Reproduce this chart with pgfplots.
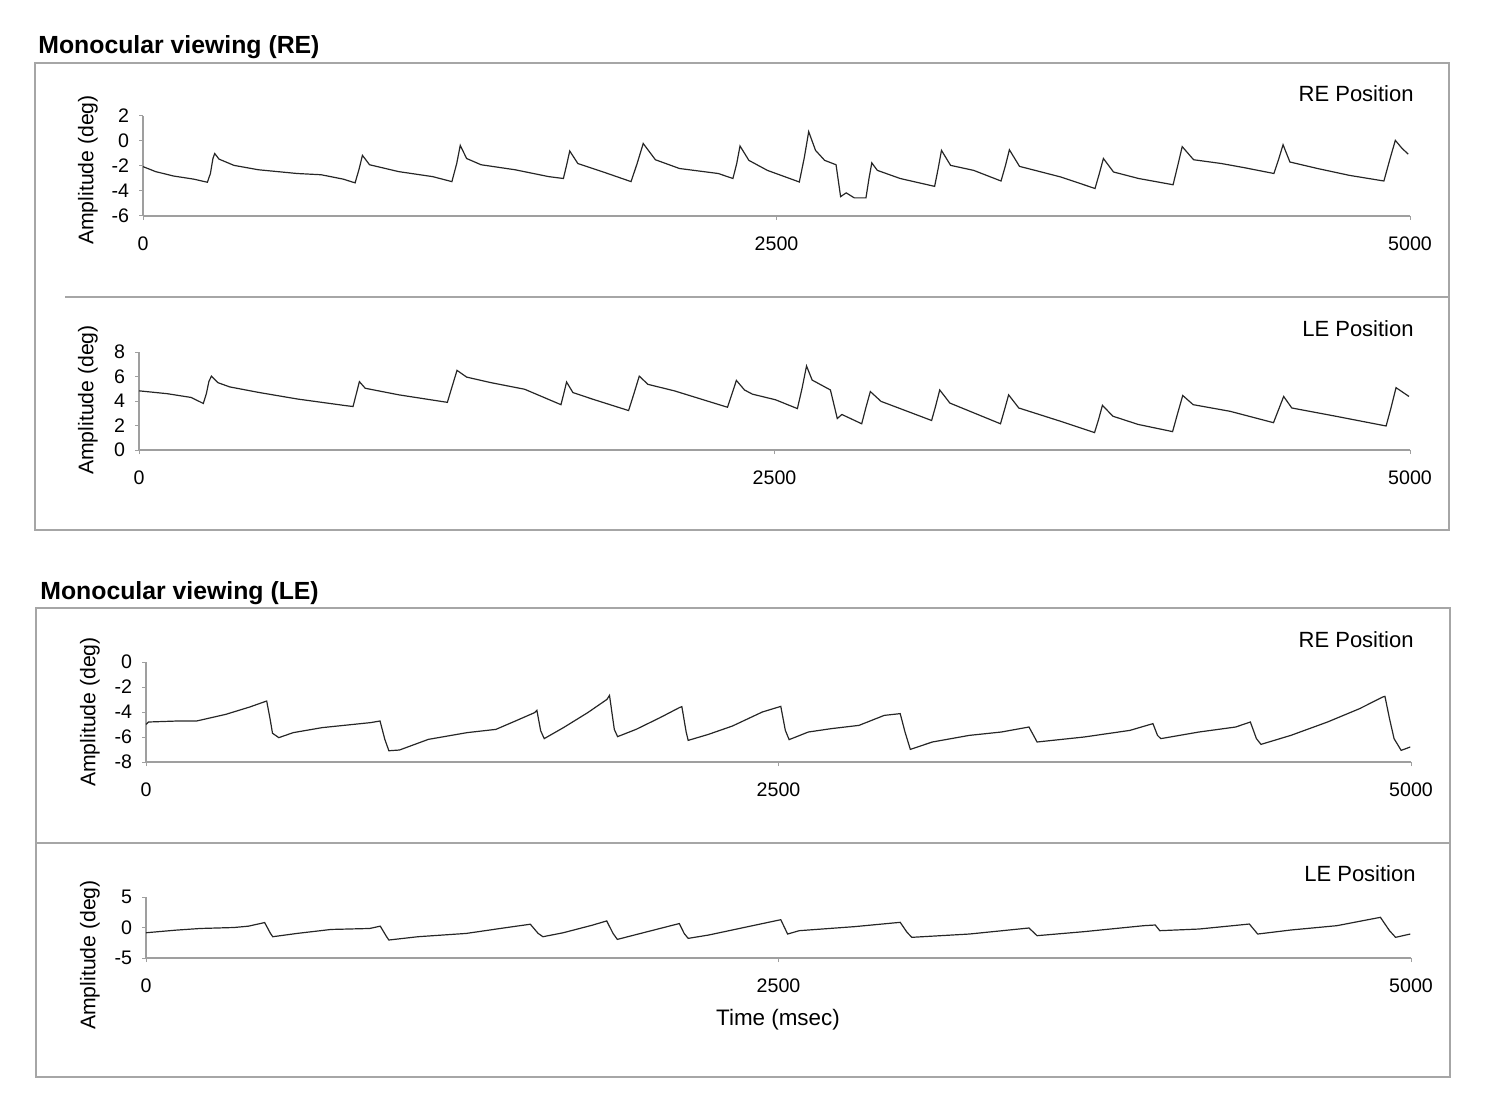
\documentclass[border=0pt]{standalone}
\usepackage{pgfplots}
\pgfplotsset{compat=1.18}
\usepackage{fontspec}
\setmainfont{Liberation Sans}

\pgfplotsset{
    panel/.style={
        scale only axis,
        anchor=south west,
        axis x line*=bottom,
        axis y line*=left,
        xmin=0, xmax=5000,
        xtick={0,2500,5000},
        xticklabels={0,2500,5000},
        tick align=outside,
        major tick length=2pt,
        axis line style={gray!75, line width=0.6pt},
        tick style={gray!75, line width=0.5pt},
        tick label style={font=\fontsize{9.8}{11}\selectfont},
        xticklabel style={yshift=-5pt},
        yticklabel style={xshift=-1.5pt},
        clip=false
    },
    trace/.style={black!85, line width=0.6pt, no markers}
}

\begin{document}
\begin{tikzpicture}[x=0.5pt,y=0.5pt]
\path (0,0) rectangle (1488,1116);

% frames
\draw[gray!70, line width=0.6pt] (35,1053) rectangle (1449,586);
\draw[gray!70, line width=0.6pt] (65,819) -- (1449,819);
\draw[gray!70, line width=0.6pt] (36,508) rectangle (1450,39);
\draw[gray!70, line width=0.6pt] (36,273) -- (1450,273);

\node[anchor=west, inner sep=0pt, font=\fontsize{12.4}{14}\selectfont\bfseries] at (38,1069) {Monocular viewing (RE)};
\node[anchor=west, inner sep=0pt, font=\fontsize{12.4}{14}\selectfont\bfseries] at (40,523) {Monocular viewing (LE)};

\node[anchor=east, inner sep=0pt, font=\fontsize{11}{13}\selectfont] at (1414,1022) {RE Position};
\node[anchor=east, inner sep=0pt, font=\fontsize{11}{13}\selectfont] at (1414,787) {LE Position};
\node[anchor=east, inner sep=0pt, font=\fontsize{11}{13}\selectfont] at (1414,476) {RE Position};
\node[anchor=east, inner sep=0pt, font=\fontsize{11}{13}\selectfont] at (1416,242) {LE Position};

\node[rotate=90, font=\fontsize{10.6}{13}\selectfont] at (88,946) {Amplitude (deg)};
\node[rotate=90, font=\fontsize{10.6}{13}\selectfont] at (88,716) {Amplitude (deg)};
\node[rotate=90, font=\fontsize{10.6}{13}\selectfont] at (90,404) {Amplitude (deg)};
\node[rotate=90, font=\fontsize{10.6}{13}\selectfont] at (90,161) {Amplitude (deg)};

\node[font=\fontsize{11.2}{13}\selectfont] at (778,96) {Time (msec)};

% RE viewing, RE position
\begin{axis}[panel, at={(71.5pt,450pt)}, width=633.5pt, height=50pt,
    ymin=-6, ymax=2, ytick={-6,-4,-2,0,2}, yticklabels={-6,-4,-2,0,2}]
\addplot[trace] coordinates {(0,-2.05) (50,-2.45) (120,-2.8) (200,-3.05) (254,-3.3) (266,-2.6) (276,-1.4) (283,-1.0) (300,-1.45) (359,-1.95) (455,-2.3) (608,-2.6) (703,-2.7) (790,-3.05) (837,-3.35) (852,-2.3) (866,-1.15) (894,-1.9) (1009,-2.45) (1143,-2.85) (1219,-3.25) (1238,-1.8) (1252,-0.35) (1277,-1.4) (1334,-1.9) (1468,-2.3) (1601,-2.85) (1659,-3.0) (1672,-1.9) (1684,-0.8) (1716,-1.8) (1812,-2.45) (1926,-3.25) (1950,-1.8) (1974,-0.2) (2022,-1.5) (2117,-2.2) (2270,-2.6) (2328,-3.0) (2343,-1.8) (2356,-0.4) (2391,-1.55) (2464,-2.35) (2590,-3.28) (2610,-1.3) (2627,0.75) (2654,-0.75) (2690,-1.55) (2735,-1.9) (2753,-4.45) (2775,-4.15) (2807,-4.55) (2853,-4.55) (2865,-3.0) (2876,-1.75) (2898,-2.35) (2988,-3.0) (3124,-3.63) (3138,-2.2) (3151,-0.75) (3187,-1.95) (3278,-2.35) (3386,-3.2) (3403,-2.0) (3419,-0.7) (3459,-2.03) (3622,-2.88) (3757,-3.8) (3774,-2.6) (3790,-1.4) (3830,-2.48) (3929,-3.0) (4065,-3.5) (4083,-2.0) (4101,-0.45) (4146,-1.5) (4255,-1.8) (4345,-2.13) (4463,-2.6) (4481,-1.5) (4499,-0.3) (4526,-1.68) (4635,-2.2) (4761,-2.75) (4897,-3.2) (4920,-1.5) (4942,0.05) (4969,-0.6) (4993,-1.05)};
\end{axis}

% RE viewing, LE position
\begin{axis}[panel, at={(69.5pt,333pt)}, width=635.5pt, height=49pt,
    ymin=0, ymax=8, ytick={0,2,4,6,8}, yticklabels={0,2,4,6,8}]
\addplot[trace] coordinates {(0,4.83) (110,4.6) (205,4.29) (253,3.8) (265,4.6) (275,5.6) (285,6.03) (310,5.5) (357,5.15) (471,4.7) (624,4.16) (814,3.62) (842,3.55) (855,4.6) (867,5.58) (890,5.04) (1023,4.5) (1213,3.89) (1232,5.2) (1251,6.5) (1289,5.95) (1384,5.5) (1517,4.96) (1660,3.7) (1671,4.6) (1682,5.55) (1707,4.69) (1783,4.16) (1926,3.22) (1947,4.6) (1968,6.03) (2002,5.36) (2106,4.83) (2315,3.49) (2333,4.6) (2350,5.68) (2382,4.9) (2413,4.56) (2504,4.1) (2590,3.38) (2608,5.0) (2626,6.86) (2648,5.71) (2720,4.9) (2747,2.57) (2765,2.9) (2843,2.14) (2860,3.5) (2877,4.77) (2919,3.97) (3118,2.41) (3134,3.6) (3150,4.9) (3190,3.83) (3389,2.14) (3405,3.3) (3421,4.5) (3461,3.43) (3623,2.36) (3759,1.42) (3775,2.5) (3790,3.65) (3831,2.76) (3930,2.09) (4066,1.5) (4086,3.0) (4106,4.45) (4147,3.7) (4292,3.16) (4463,2.23) (4483,3.3) (4503,4.37) (4535,3.43) (4707,2.76) (4906,1.96) (4926,3.5) (4945,5.09) (4996,4.37)};
\end{axis}

% LE viewing, RE position
\begin{axis}[panel, at={(73pt,177pt)}, width=632.5pt, height=50pt,
    ymin=-8, ymax=0, ytick={-8,-6,-4,-2,0}, yticklabels={-8,-6,-4,-2,0}]
\addplot[trace] coordinates {(0,-4.99) (10,-4.8) (124,-4.72) (200,-4.72) (315,-4.19) (410,-3.6) (477,-3.12) (490,-4.5) (500,-5.7) (525,-6.05) (582,-5.65) (696,-5.25) (887,-4.85) (925,-4.72) (944,-6.19) (960,-7.1) (1002,-7.04) (1116,-6.19) (1269,-5.65) (1383,-5.39) (1460,-4.72) (1536,-4.05) (1545,-3.87) (1560,-5.5) (1574,-6.13) (1650,-5.25) (1746,-4.05) (1822,-2.99) (1832,-2.67) (1851,-5.39) (1864,-5.97) (1937,-5.39) (2032,-4.45) (2108,-3.65) (2118,-3.57) (2135,-5.6) (2143,-6.27) (2223,-5.79) (2318,-5.12) (2436,-4.0) (2509,-3.55) (2527,-5.47) (2542,-6.21) (2618,-5.6) (2709,-5.33) (2818,-5.07) (2918,-4.27) (2981,-4.13) (3000,-5.6) (3021,-6.99) (3108,-6.4) (3254,-5.87) (3381,-5.6) (3490,-5.2) (3508,-5.87) (3522,-6.4) (3708,-6.0) (3889,-5.47) (3980,-4.93) (3998,-5.87) (4011,-6.13) (4162,-5.6) (4307,-5.2) (4365,-4.8) (4389,-6.13) (4407,-6.59) (4525,-5.87) (4670,-4.8) (4797,-3.73) (4888,-2.8) (4897,-2.75) (4915,-4.53) (4933,-6.13) (4961,-7.07) (4997,-6.8)};
\end{axis}

% LE viewing, LE position
\begin{axis}[panel, at={(73pt,79pt)}, width=632.5pt, height=30.5pt,
    ymin=-5, ymax=5, ytick={-5,0,5}, yticklabels={-5,0,5}]
\addplot[trace] coordinates {(0,-0.86) (119,-0.43) (214,-0.16) (348,0) (405,0.22) (469,0.81) (492,-0.97) (501,-1.51) (597,-0.97) (731,-0.32) (884,-0.16) (926,0.22) (951,-1.51) (960,-2.05) (1075,-1.51) (1266,-0.97) (1400,-0.16) (1519,0.54) (1550,-0.97) (1569,-1.51) (1649,-0.86) (1764,0.38) (1821,1.08) (1846,-0.97) (1863,-1.95) (1955,-0.97) (2108,0.65) (2127,-0.97) (2143,-1.78) (2223,-1.24) (2376,0.11) (2509,1.28) (2536,-1.07) (2582,-0.52) (2800,0.14) (2981,0.85) (3008,-0.79) (3027,-1.61) (3254,-1.07) (3490,-0.08) (3522,-1.34) (3708,-0.68) (3944,0.3) (3989,0.41) (4007,-0.52) (4162,-0.25) (4361,0.57) (4394,-1.07) (4525,-0.41) (4707,0.3) (4879,1.67) (4915,-0.52) (4939,-1.61) (4997,-1.07)};
\end{axis}

\end{tikzpicture}
\end{document}
